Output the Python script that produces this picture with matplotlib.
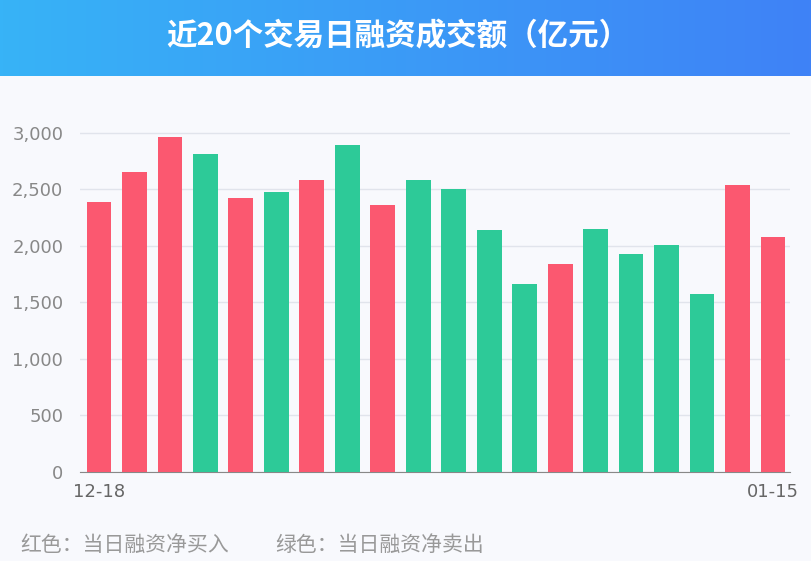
import matplotlib
matplotlib.use("Agg")
import matplotlib.pyplot as plt
from matplotlib.colors import LinearSegmentedColormap
import numpy as np

plt.rcParams['font.family'] = ['Noto Sans CJK SC', 'DejaVu Sans']

dates = ["12-18","12-19","12-20","12-23","12-24","12-25","12-26","12-27","12-30","12-31",
         "01-02","01-03","01-06","01-07","01-08","01-09","01-10","01-13","01-14","01-15"]
values = [2390, 2650, 2965, 2815, 2425, 2480, 2585, 2895, 2365, 2585,
          2505, 2145, 1660, 1840, 2150, 1925, 2010, 1575, 2540, 2080]
net_buy = [1,1,1,0,1,0,1,0,1,0,0,0,0,1,0,0,0,0,1,1]

RED, GREEN = "#fb5870", "#2dca98"
fig = plt.figure(figsize=(8.12, 5.61), dpi=100)
fig.patch.set_facecolor("#f8f9fd")

hax = fig.add_axes([0, 1-76/561, 1, 76/561])
cmap = LinearSegmentedColormap.from_list("g", ["#37b3f7", "#3f82f6"])
hax.imshow(np.linspace(0, 1, 256)[None, :], aspect="auto", cmap=cmap, extent=[0, 1, 0, 1])
hax.set_axis_off()
hax.text(0.49, 0.52, "近20个交易日融资成交额（亿元）", color="white", fontsize=22,
         fontweight="bold", ha="center", va="center", transform=hax.transAxes)

ax = fig.add_axes([80/812, 1-472/561, 710/812, 373/561])
ax.set_facecolor("#f8f9fd")
x = np.arange(len(values))
ax.bar(x, values, width=0.7, color=[RED if b else GREEN for b in net_buy], zorder=3)
ax.set_xlim(-0.535, len(values)-1+0.48)
ax.set_ylim(0, 3300)
ax.set_yticks([0, 500, 1000, 1500, 2000, 2500, 3000])
ax.set_yticklabels(["0", "500", "1,000", "1,500", "2,000", "2,500", "3,000"],
                   family="DejaVu Sans")
ax.grid(axis="y", color="#e1e4ec", lw=1, zorder=0)
ax.set_xticks([0, len(values)-1])
ax.set_xticklabels([dates[0], dates[-1]], family="DejaVu Sans")
for s in ["top", "right", "left"]:
    ax.spines[s].set_visible(False)
ax.spines["bottom"].set_color("#888888")
ax.tick_params(axis="y", length=0, labelsize=13, colors="#888888", pad=12)
ax.tick_params(axis="x", length=0, labelsize=13, colors="#666666", pad=8)

fig.text(20/812, 1-545/561, "红色：当日融资净买入", fontsize=15, color="#999999", va="center")
fig.text(275/812, 1-545/561, "绿色：当日融资净卖出", fontsize=15, color="#999999", va="center")

fig.savefig("out.png", dpi=100, facecolor=fig.get_facecolor())
